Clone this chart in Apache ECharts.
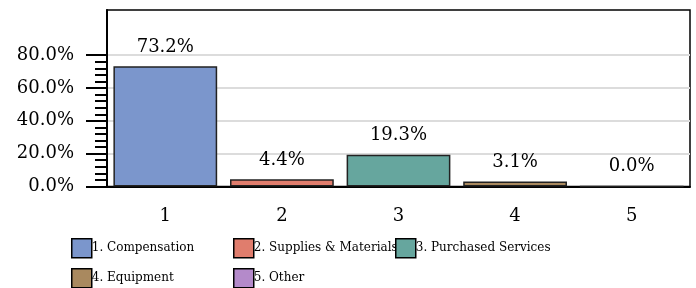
<!DOCTYPE html>
<html>
<head>
<meta charset="utf-8">
<script src="https://cdn.jsdelivr.net/npm/echarts@6/dist/echarts.min.js"></script>
<style>html,body{margin:0;padding:0;background:#fff}#c{width:696px;height:288px}</style>
</head>
<body>
<div id="c"></div>
<script>
const categories = ['1', '2', '3', '4', '5'];
const seriesNames = ['1. Compensation', '2. Supplies & Materials', '3. Purchased Services', '4. Equipment', '5. Other'];
const values = [73.2, 4.4, 19.3, 3.1, 0.0];
const colors = ['#7b96cc', '#e07d6d', '#66a69e', '#a9895f', '#b48aca'];
const majorTicks = [0, 20, 40, 60, 80];
const minorTicks = [4, 8, 12, 16, 24, 28, 32, 36, 44, 48, 52, 56, 64, 68, 72, 76];

const font = 'DejaVu Serif';
const chart = echarts.init(document.getElementById('c'));

const series = seriesNames.map((name, i) => ({
  name: name,
  type: 'bar',
  stack: 'all',
  barCategoryGap: '11%',
  xAxisIndex: 0,
  yAxisIndex: 0,
  itemStyle: { color: colors[i], borderColor: '#222', borderWidth: 1.5 },
  label: {
    show: true, position: 'top', distance: 10,
    fontFamily: font, fontSize: 18, color: '#000',
    formatter: p => p.value.toFixed(1) + '%'
  },
  data: categories.map((c, j) => j === i ? values[i] : '-')
}));

const legendPos = [[71, 238], [233, 238], [395, 238], [71, 268], [233, 268]];
const legends = seriesNames.map((name, i) => ({
  data: [name],
  left: legendPos[i][0], top: legendPos[i][1],
  padding: 0,
  itemWidth: 20, itemHeight: 19, icon: 'rect',
  itemStyle: { borderColor: '#000', borderWidth: 1.5 },
  textStyle: { fontFamily: font, fontSize: 12, color: '#000', padding: [5, 0, 0, -5] },
  selectedMode: false
}));

chart.setOption({
  animation: false,
  backgroundColor: '#fff',
  grid: { left: 107, right: 6, top: 10, bottom: 101.5, show: true, borderColor: '#000', borderWidth: 1.5, backgroundColor: '#fff' },
  legend: legends,
  xAxis: [{
    type: 'category', data: categories,
    axisLine: { lineStyle: { color: '#000', width: 2 } },
    axisTick: { show: false },
    axisLabel: { fontFamily: font, fontSize: 18, color: '#000', margin: 21 }
  }],
  yAxis: [{
    type: 'value', min: 0, max: 107.5, interval: 20,
    axisLine: { show: true, lineStyle: { color: '#000', width: 2 } },
    axisTick: { show: true, customValues: majorTicks, length: 21, lineStyle: { color: '#000', width: 2 } },
    axisLabel: { customValues: majorTicks, fontFamily: font, fontSize: 18, color: '#000', margin: 33, padding: [4, 0, 0, 0], formatter: v => v.toFixed(1) + '%' },
    splitLine: { show: true, lineStyle: { color: ['#dcdcdc', '#dcdcdc', '#dcdcdc', '#dcdcdc', '#dcdcdc', 'rgba(0,0,0,0)', 'rgba(0,0,0,0)'], width: 2 } }
  }, {
    type: 'value', min: 0, max: 107.5, interval: 20, position: 'left',
    axisLine: { show: false },
    axisTick: { show: true, customValues: minorTicks, length: 12, inside: false, lineStyle: { color: '#000', width: 2 } },
    axisLabel: { show: false },
    splitLine: { show: false }
  }],
  series: series
});
</script>
</body>
</html>
